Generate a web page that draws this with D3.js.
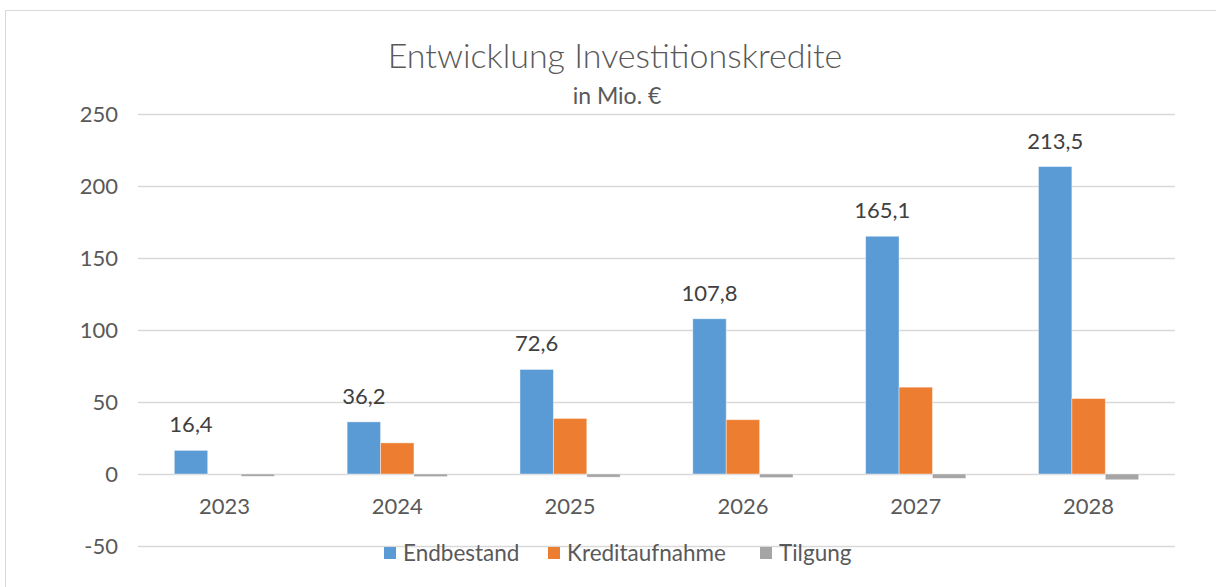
<!DOCTYPE html>
<html>
<head>
<meta charset="utf-8">
<script src="https://cdn.jsdelivr.net/npm/d3@7"></script>
<style>
  body { margin: 0; background: #fff; }
  text { font-family: Lato, "Open Sans", sans-serif; fill: #595959; }
</style>
</head>
<body>
<div id="chart"></div>
<script>
// Entwicklung Investitionskredite, in Mio. €

var years = ["2023", "2024", "2025", "2026", "2027", "2028"];
var seriesNames = ["Endbestand", "Kreditaufnahme", "Tilgung"];
var endbestand = [16.4, 36.2, 72.6, 107.8, 165.1, 213.5];
var kreditaufnahme = [0, 21.6, 38.6, 37.7, 60.3, 52.4];
var tilgung = [-1.6, -1.8, -2.2, -2.5, -3.0, -4.0];
var yTicks = [-50, 0, 50, 100, 150, 200, 250];
var colors = ["#5B9BD5", "#ED7D31", "#A5A5A5"];

var width = 1216, height = 587;
var plotLeft = 138, plotRight = 1175, plotTop = 114, plotBottom = 546;

var svg = d3.select("#chart").append("svg")
  .attr("width", width)
  .attr("height", height);

// chart border
svg.append("rect")
  .attr("x", 5.5).attr("y", 10.5)
  .attr("width", width + 10).attr("height", height + 10)
  .attr("fill", "none")
  .attr("stroke", "#d9d9d9");

var y = d3.scaleLinear().domain([-50, 250]).range([plotBottom, plotTop]);

var x0 = d3.scaleBand().domain(years).range([plotLeft, plotRight])
  .paddingInner(0.42).paddingOuter(0.21);

var x1 = d3.scaleBand().domain(seriesNames).range([0, x0.bandwidth()]);

// grid
svg.append("g").selectAll("line").data(yTicks).enter().append("line")
  .attr("x1", plotLeft).attr("x2", plotRight)
  .attr("y1", function(d){return Math.round(y(d)) + 0.5})
  .attr("y2", function(d){return Math.round(y(d)) + 0.5})
  .attr("stroke", "#d9d9d9")
  .attr("stroke-width", 1.5);

// y axis labels
svg.append("g").selectAll("text").data(yTicks).enter().append("text")
  .attr("x", 118)
  .attr("y", function(d){return y(d)})
  .attr("dy", "0.35em")
  .attr("text-anchor", "end")
  .style("font-size", "22px")
  .text(function(d){return d});

// bars
var data = years.map(function(yr, i) {
  return [
    {year: yr, name: seriesNames[0], value: endbestand[i], col: colors[0]},
    {year: yr, name: seriesNames[1], value: kreditaufnahme[i], col: colors[1]},
    {year: yr, name: seriesNames[2], value: tilgung[i], col: colors[2]}
  ];
});

var groups = svg.append("g").selectAll("g").data(data).enter().append("g")
  .attr("transform", function(d){return "translate(" + x0(d[0].year) + ",0)"});

groups.selectAll("rect").data(function(d){return d}).enter().append("rect")
  .attr("x", function(d){return x1(d.name)})
  .attr("width", x1.bandwidth())
  .attr("y", function(d){return y(Math.max(0, d.value))})
  .attr("height", function(d){return Math.abs(y(d.value) - y(0))})
  .attr("fill", function(d){return d.col})
  .attr("stroke", "#fff")
  .attr("stroke-opacity", 0.5)
  .attr("stroke-width", 0.8);

// data labels for Endbestand
svg.append("g").selectAll("text").data(years).enter().append("text")
  .attr("x", function(d){return x0(d) + x1(seriesNames[0]) + x1.bandwidth() / 2})
  .attr("y", function(d, i){return y(endbestand[i]) - 18})
  .attr("text-anchor", "middle")
  .style("font-size", "22px")
  .style("fill", "#404040")
  .text(function(d, i){return d3.format(".1f")(endbestand[i]).replace(".", ",")});

// category labels
svg.append("g").selectAll("text").data(years).enter().append("text")
  .attr("x", function(d){return x0(d) + x0.bandwidth() / 2})
  .attr("y", 506)
  .attr("dy", "0.35em")
  .attr("text-anchor", "middle")
  .style("font-size", "22px")
  .text(function(d){return d});

// title
svg.append("text")
  .attr("x", 615).attr("y", 68)
  .attr("text-anchor", "middle")
  .style("font-size", "34px")
  .style("font-weight", 300)
  .text("Entwicklung Investitionskredite");

svg.append("text")
  .attr("x", 617).attr("y", 104)
  .attr("text-anchor", "middle")
  .style("font-size", "23px")
  .text("in Mio. €");

// legend
var legendX = [384, 548, 760];
var legend = svg.append("g").selectAll("g").data(seriesNames).enter().append("g")
  .attr("transform", function(d, i){return "translate(" + legendX[i] + ",553)"});

legend.append("rect")
  .attr("x", 0).attr("y", -6)
  .attr("width", 12).attr("height", 12)
  .attr("fill", function(d, i){return colors[i]});

legend.append("text")
  .attr("x", 19).attr("y", 0)
  .attr("dy", "0.35em")
  .style("font-size", "22.5px")
  .text(function(d){return d});
</script>
</body>
</html>
